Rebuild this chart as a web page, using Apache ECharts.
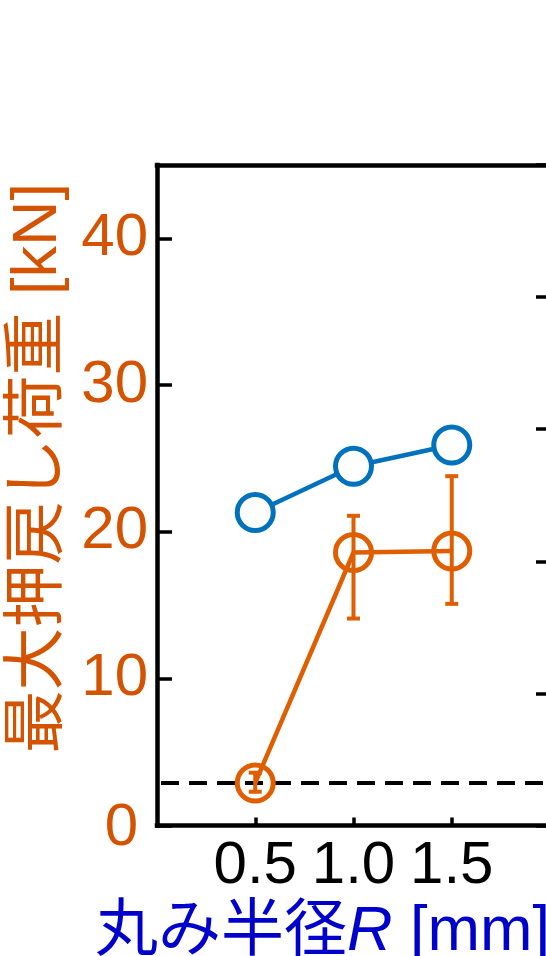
<!DOCTYPE html>
<html>
<head>
<meta charset="utf-8">
<script src="https://cdn.jsdelivr.net/npm/echarts@6/dist/echarts.min.js"></script>
<style>
  html, body { margin: 0; padding: 0; background: #fff; }
  #chart { width: 546px; height: 956px; }
</style>
</head>
<body>
<div id="chart"></div>
<script>
// Fillet radius R [mm]
const radius = [0.5, 1.0, 1.5];
// Maximum push-back load [kN]: mean and error-bar range
const loadMean = [2.9, 18.6, 18.7];
const loadLow = [2.3, 14.1, 15.1];
const loadHigh = [3.6, 21.1, 23.8];
// Second quantity, plotted against the right-hand axis
const rightValues = [2.37, 2.72, 2.88];
// Reference load level (dashed line)
const referenceLoad = 2.9;
// Tick labels
const xTicks = [0.5, 1.0, 1.5];
const xTickLabels = ['0.5', '1.0', '1.5'];
const yTicks = [0, 10, 20, 30, 40];

const ORANGE = '#DF5F00';
const TEXT_ORANGE = '#D45300';
const BLUE = '#0072BD';
const NAME_BLUE = '#0000CC';
const LATIN = "'Liberation Sans', 'Noto Sans CJK JP', sans-serif";

const chart = echarts.init(document.getElementById('chart'), null, { renderer: 'canvas' });

const axisLine = { show: true, onZero: false, lineStyle: { color: '#000', width: 4.5, cap: 'square' } };
const tickStyle = { color: '#000', width: 3.5 };

const option = {
  animation: false,
  backgroundColor: '#fff',
  grid: {
    left: 157, top: 165, width: 393, height: 660.5,
    containLabel: false, outerBoundsMode: 'none'
  },
  xAxis: [
    {
      type: 'value', position: 'bottom', min: 0, max: 2,
      axisLine: axisLine,
      splitLine: { show: false },
      axisTick: { show: true, inside: true, length: 8, customValues: xTicks, lineStyle: tickStyle },
      axisLabel: {
        show: true, customValues: xTicks, margin: 11, hideOverlap: false,
        color: '#000', fontSize: 60, fontFamily: LATIN,
        formatter: v => xTickLabels[xTicks.indexOf(v)] ?? ''
      },
      name: '{a|丸み半径}{r|R}{a| [mm]}',
      nameLocation: 'middle', nameGap: 69,
      nameTextStyle: {
        padding: [0, 62, 0, 0],
        lineHeight: 63,
        rich: {
          a: { fontSize: 63, lineHeight: 63, color: NAME_BLUE, fontFamily: LATIN },
          r: { fontSize: 63, lineHeight: 63, color: NAME_BLUE, fontFamily: LATIN, fontStyle: 'italic' }
        }
      }
    },
    {
      type: 'value', position: 'top', min: 0, max: 2,
      axisLine: axisLine,
      splitLine: { show: false },
      axisTick: { show: false },
      axisLabel: { show: false }
    }
  ],
  yAxis: [
    {
      type: 'value', position: 'left', min: 0, max: 45, interval: 10,
      axisLine: axisLine,
      splitLine: { show: false },
      axisTick: { show: true, inside: true, length: 15, customValues: yTicks, lineStyle: tickStyle },
      axisLabel: {
        show: true, customValues: yTicks, margin: 9, hideOverlap: false,
        color: TEXT_ORANGE, fontSize: 60, fontFamily: LATIN,
        formatter: v => (v === 0 ? '{z|0}' : String(v)),
        rich: {
          z: { fontSize: 60, fontFamily: LATIN, color: TEXT_ORANGE, padding: [6, 10, 0, 0] }
        }
      },
      name: '最大押戻し荷重 [kN]',
      nameLocation: 'middle', nameGap: 80,
      nameTextStyle: {
        color: TEXT_ORANGE, fontSize: 63, lineHeight: 63, fontFamily: LATIN,
        padding: [0, 0, 0, 54]
      }
    },
    {
      type: 'value', position: 'right', min: 0, max: 5, interval: 1,
      axisLine: axisLine,
      splitLine: { show: false },
      axisTick: { show: true, inside: true, length: 14, lineStyle: tickStyle },
      axisLabel: { show: false }
    }
  ],
  series: [
    {
      name: 'load',
      type: 'line',
      xAxisIndex: 0, yAxisIndex: 0,
      data: radius.map((r, i) => [r, loadMean[i]]),
      color: ORANGE,
      symbol: 'circle', symbolSize: 36,
      itemStyle: { color: 'rgba(0,0,0,0)', borderColor: ORANGE, borderWidth: 5 },
      lineStyle: { color: ORANGE, width: 4.5 },
      z: 3,
      markLine: {
        silent: true,
        symbol: ['none', 'none'],
        label: { show: false },
        lineStyle: { color: '#000', width: 4, type: [18, 10], dashOffset: -4 },
        data: [{ yAxis: referenceLoad }],
        z: 2
      }
    },
    {
      name: 'loadError',
      type: 'custom',
      xAxisIndex: 0, yAxisIndex: 0,
      data: radius.map((r, i) => [r, loadLow[i], loadHigh[i]]),
      z: 4,
      renderItem: (params, api) => {
        const x = api.value(0);
        const top = api.coord([x, api.value(2)]);
        const bot = api.coord([x, api.value(1)]);
        const hw = 6.5;
        const style = { stroke: ORANGE, lineWidth: 4 };
        return {
          type: 'group',
          children: [
            { type: 'line', shape: { x1: top[0], y1: top[1], x2: bot[0], y2: bot[1] }, style },
            { type: 'line', shape: { x1: top[0] - hw, y1: top[1], x2: top[0] + hw, y2: top[1] }, style },
            { type: 'line', shape: { x1: bot[0] - hw, y1: bot[1], x2: bot[0] + hw, y2: bot[1] }, style }
          ]
        };
      }
    },
    {
      name: 'right',
      type: 'line',
      xAxisIndex: 0, yAxisIndex: 1,
      data: radius.map((r, i) => [r, rightValues[i]]),
      color: BLUE,
      symbol: 'circle', symbolSize: 36,
      itemStyle: { color: '#fff', borderColor: BLUE, borderWidth: 5 },
      lineStyle: { color: BLUE, width: 4.5 },
      z: 5
    }
  ]
};

chart.setOption(option);
</script>
</body>
</html>
